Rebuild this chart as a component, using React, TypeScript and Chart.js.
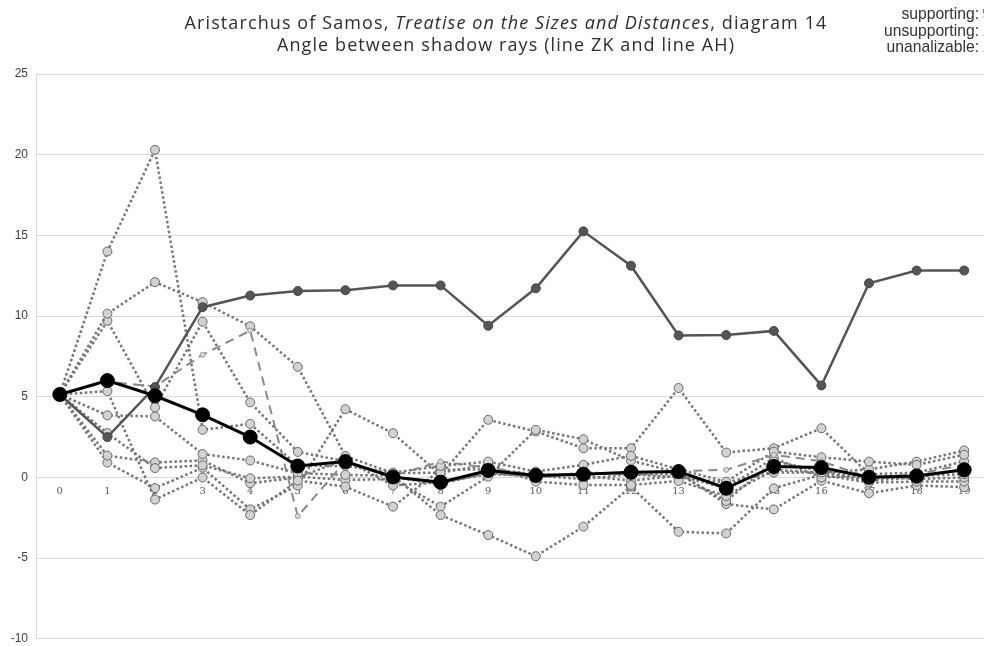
import React, { useEffect, useRef } from "react";
import { Chart, registerables } from "chart.js";

Chart.register(...registerables);

// ---- data -------------------------------------------------------------
const categories = ["0", "1", "2", "3", "4", "5", "6", "7", "8", "9", "10", "11", "12", "13", "14", "15", "16", "17", "18", "19"];

// mean of the supporting series
const meanSeries = [5.14, 6.0, 5.06, 3.88, 2.5, 0.71, 0.98, 0.03, -0.3, 0.43, 0.12, 0.2, 0.32, 0.36, -0.67, 0.68, 0.61, 0.01, 0.09, 0.47];

// unsupporting
const unsupportingSeries = [5.14, 2.5, 5.6, 10.55, 11.27, 11.55, 11.6, 11.9, 11.9, 9.4, 11.72, 15.25, 13.12, 8.8, 8.82, 9.08, 5.7, 12.03, 12.82, 12.82];

// unanalizable
const unanalizableSeries = [5.14, 5.93, 5.64, 7.6, 9.1, -2.4, 1.0, 0.1, 0.98, 0.6, 0.15, 0.2, 0.3, 0.4, 0.47, 1.4, 1.0, 0.0, 0.2, 0.8];

// supporting
const supportingA = [5.14, 14.0, 20.3, 2.95, 3.32, 0.73, 0.71, 0.3, 0.71, 0.98, 0.36, 0.78, 1.34, 0.5, -0.26, 1.6, 1.25, 0.98, 0.78, 1.4];
const supportingB = [5.14, 10.15, 12.1, 10.86, 9.37, 6.85, 1.33, 0.26, 0.3, 0.78, -0.26, -0.47, -0.47, -0.22, -1.15, 0.47, 0.3, 0.5, 0.98, 1.67];
const supportingC = [5.14, 9.7, 4.34, 9.65, 4.65, 1.58, 1.0, 0.0, -0.4, 0.3, 0.0, 0.3, 0.2, 0.2, -1.46, 1.0, 0.4, -0.1, 0.1, 0.2];
const supportingD = [5.14, 5.35, -1.37, 0.0, -2.33, -0.2, -0.57, -1.81, 0.47, 0.5, 0.2, 0.1, -0.2, 0.1, -0.67, 1.2, 0.0, 0.1, -0.1, 0.0];
const supportingE = [5.14, 3.85, 3.78, 1.45, 1.05, 0.26, 0.16, 0.1, -2.33, -3.57, -4.88, -3.05, -0.57, -3.37, -3.47, -0.67, 0.16, -0.32, -0.26, -0.26];
const supportingF = [5.14, 2.75, 0.58, 0.75, -0.05, 0.05, -0.16, -0.1, -1.81, 0.05, 2.95, 2.37, 1.04, 0.3, -1.65, -1.98, -0.2, -0.98, -0.5, -0.6];
const supportingG = [5.14, 1.35, 0.93, 1.05, -0.36, 0.0, 1.1, -0.5, -0.3, 0.2, 0.1, -0.1, 0.2, 0.0, -0.3, 0.3, 0.3, -0.2, 0.0, 0.5];
const supportingH = [5.14, 0.92, -0.66, 0.6, -1.98, -0.5, 4.23, 2.74, 0.16, 3.57, 2.85, 1.81, 1.81, 5.54, 1.54, 1.81, 3.05, 0.2, 0.3, 1.0];

const supportingSeries = [supportingA, supportingB, supportingC, supportingD, supportingE, supportingF, supportingG, supportingH];

const yTicks = [25, 20, 15, 10, 5, 0, -5, -10];

const titlePre = "Aristarchus of Samos, ";
const titleItalic = "Treatise on the Sizes and Distances";
const titlePost = ", diagram 14";
const subtitle = "Angle between shadow rays (line ZK and line AH)";
const tallyLabels = ["supporting:", "unsupporting:", "unanalizable:"];
const tallyCounts = ["9", "1", "1"];

// ---- drawing ------------------------------------------------------------
const TITLE_CX = 506;

const headerPlugin = {
  id: "header",
  afterDraw(chart: any) {
    const ctx: any = chart.ctx;
    ctx.save();
    ctx.fillStyle = "#2e2e2e";
    ctx.textBaseline = "alphabetic";
    ctx.letterSpacing = "1.1px";
    const normal = '18px "Open Sans"';
    const italic = 'italic 18px "Open Sans"';
    ctx.font = normal;
    const w1 = ctx.measureText(titlePre).width;
    const w3 = ctx.measureText(titlePost).width;
    ctx.font = italic;
    const w2 = ctx.measureText(titleItalic).width;
    let x = TITLE_CX - (w1 + w2 + w3) / 2;
    ctx.textAlign = "left";
    ctx.font = normal;
    ctx.fillText(titlePre, x, 29);
    x += w1;
    ctx.font = italic;
    ctx.fillText(titleItalic, x, 29);
    x += w2;
    ctx.font = normal;
    ctx.fillText(titlePost, x, 29);
    ctx.textAlign = "center";
    ctx.fillText(subtitle, TITLE_CX, 51);

    ctx.letterSpacing = "0px";
    ctx.fillStyle = "#333333";
    ctx.font = '15.7px "Liberation Sans"';
    tallyLabels.forEach((label, i) => {
      const y = 19 + i * 16.5;
      ctx.textAlign = "right";
      ctx.fillText(label, 979, y);
      ctx.textAlign = "left";
      ctx.fillText(tallyCounts[i], 982.5, y);
    });
    ctx.restore();
  },
};

export default function App() {
  const canvasRef = useRef<HTMLCanvasElement | null>(null);

  useEffect(() => {
    const canvas = canvasRef.current;
    if (!canvas) return;

    const dotted = supportingSeries.map((values) => ({
      data: values,
      borderColor: "#767676",
      borderWidth: 2.5,
      borderDash: [2.5, 2.5],
      pointRadius: 4.5,
      pointBorderWidth: 1,
      pointBackgroundColor: "#d2d2d2",
      pointBorderColor: "#686868",
      tension: 0,
    }));

    const chart = new Chart(canvas, {
      type: "line",
      data: {
        labels: categories,
        datasets: [
          {
            data: meanSeries,
            borderColor: "#000000",
            borderWidth: 3,
            pointRadius: 7,
            pointBorderWidth: 1,
            pointBackgroundColor: "#000000",
            pointBorderColor: "#000000",
          },
          {
            data: unsupportingSeries,
            borderColor: "#555555",
            borderWidth: 2.5,
            pointRadius: 4.5,
            pointBorderWidth: 1,
            pointBackgroundColor: "#555555",
            pointBorderColor: "#444444",
          },
          {
            data: unanalizableSeries,
            borderColor: "#8a8a8a",
            borderWidth: 2,
            borderDash: [9, 6],
            pointRadius: 2.5,
            pointBorderWidth: 1,
            pointBackgroundColor: "#dadada",
            pointBorderColor: "#9a9a9a",
          },
          ...dotted,
        ] as any,
      },
      options: {
        responsive: false,
        animation: false,
        layout: { padding: { left: 0, right: 12, top: 74, bottom: 0 } },
        plugins: {
          legend: { display: false },
          tooltip: { enabled: false },
          title: { display: false },
        },
        scales: {
          x: {
            type: "category",
            position: { y: 0 } as any,
            offset: true,
            grid: { display: false, drawTicks: false },
            border: { display: false },
            ticks: {
              autoSkip: false,
              maxRotation: 0,
              padding: 8,
              color: "#595959",
              font: { family: '"DejaVu Serif"', size: 10 },
            },
          },
          y: {
            min: -10,
            max: 25,
            afterFit: (scale: any) => {
              scale.width = 36;
            },
            afterBuildTicks: (scale: any) => {
              scale.ticks = yTicks.slice().reverse().map((v) => ({ value: v }));
            },
            grid: { color: "#d9d9d9", lineWidth: 1, drawTicks: false },
            border: { display: true, color: "#d9d9d9", width: 1 },
            ticks: {
              padding: 8,
              color: "#404040",
              font: { family: '"Liberation Sans"', size: 12 },
            },
          },
        },
      },
      plugins: [headerPlugin],
    });

    return () => chart.destroy();
  }, []);

  return (
    <div
      style={{
        position: "fixed",
        left: 0,
        top: 0,
        width: 984,
        height: 646,
        overflow: "hidden",
        background: "#ffffff",
      }}
    >
      <canvas ref={canvasRef} width={1000} height={654} style={{ display: "block", width: 1000, height: 654 }} />
    </div>
  );
}
